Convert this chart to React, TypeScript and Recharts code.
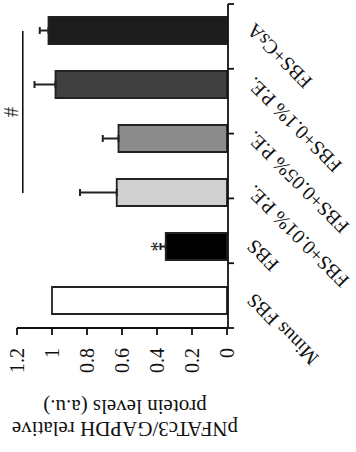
import React from "react"
import { BarChart, Bar, XAxis, YAxis, Cell, ErrorBar, LabelList, ReferenceLine, Label } from "recharts"

// groups along the category axis
const categories = ["Minus FBS", "FBS", "FBS+0.01% P.E.", "FBS+0.05% P.E.", "FBS+0.1% P.E.", "FBS+CsA"]
// pNFATc3/GAPDH relative levels
const levels = [1.0, 0.35, 0.63, 0.62, 0.98, 1.02]
// upper error (SEM)
const errors = [0, 0.03, 0.21, 0.09, 0.12, 0.05]
const marks = ["", "*", "", "", "", ""]
const fills = ["#ffffff", "#000000", "#d0d0d0", "#8c8c8c", "#404040", "#1c1c1c"]
const valueTicks = [0, 0.2, 0.4, 0.6, 0.8, 1, 1.2]
const edgeTicks = [0, 1, 2, 3, 4, 5, 6]

const data = categories.map((name, i) => ({
  name,
  value: levels[i],
  err: errors[i] > 0 ? [0, errors[i]] : null,
  mark: marks[i],
}))

const INK = "#111"
const FONT = 20

const CatTick = (props: any) => {
  const { x, y, payload } = props
  return (
    <g transform={`translate(${x + 4},${y + 23})`}>
      <text textAnchor="end" dy="0.35em" transform="rotate(-45)" fontSize={FONT} fill={INK}>
        {payload.value}
      </text>
    </g>
  )
}

const YTitle = () => (
  <g fontSize={21} fill={INK}>
    <text x={23} y={125} textAnchor="middle" dominantBaseline="central" transform="rotate(-90, 23, 125)">
      pNFATc3/GAPDH relative
    </text>
    <text x={45} y={125} textAnchor="middle" dominantBaseline="central" transform="rotate(-90, 45, 125)">
      protein levels (a.u.)
    </text>
  </g>
)

export default function App() {
  return (
    <div style={{ position: "fixed", left: 0, top: 0, width: 356, height: 452, overflow: "hidden", background: "#fff" }}>
      <div
        style={{
          position: "absolute",
          left: -48,
          top: 48,
          width: 452,
          height: 356,
          transform: "rotate(-90deg)",
          fontFamily: "'Liberation Serif', serif",
        }}
      >
        <BarChart width={452} height={356} data={data} margin={{ top: 17, right: 4, left: 0, bottom: 127 }}>
          <XAxis
            xAxisId="edge"
            type="number"
            domain={[0, 6]}
            allowDataOverflow
            ticks={edgeTicks}
            interval={0}
            tickFormatter={() => ""}
            tickSize={6}
            height={1}
            axisLine={{ stroke: INK, strokeWidth: 1.8 }}
            tickLine={{ stroke: INK, strokeWidth: 1.8 }}
          />
          <XAxis
            xAxisId="cat"
            dataKey="name"
            type="category"
            height={1}
            interval={0}
            tickSize={0}
            tickMargin={0}
            axisLine={false}
            tickLine={false}
            tick={<CatTick />}
          />
          <YAxis
            width={124}
            domain={[0, 1.2]}
            ticks={valueTicks}
            interval={0}
            tickSize={7}
            tickMargin={13}
            axisLine={{ stroke: INK, strokeWidth: 1.8 }}
            tickLine={{ stroke: INK, strokeWidth: 1.8 }}
            tick={{ fill: INK, fontSize: FONT }}
          >
            <Label content={() => <YTitle />} />
          </YAxis>
          <Bar xAxisId="cat" dataKey="value" barSize={27} stroke="#222" strokeWidth={1.8} isAnimationActive={false}>
            {data.map((d, i) => (
              <Cell key={d.name} fill={fills[i]} />
            ))}
            <ErrorBar dataKey="err" direction="y" width={3.5} stroke="#222" strokeWidth={2} isAnimationActive={false} />
            <LabelList dataKey="mark" position="top" offset={1} fontSize={FONT} fill={INK} />
          </Bar>
          <ReferenceLine
            xAxisId="cat"
            segment={[
              { x: categories[2], y: 1.167 },
              { x: categories[5], y: 1.167 },
            ]}
            stroke={INK}
            strokeWidth={1.6}
            label={{ value: "#", position: "top", offset: 5, fontSize: FONT, fill: "#333" }}
          />
        </BarChart>
      </div>
    </div>
  )
}
